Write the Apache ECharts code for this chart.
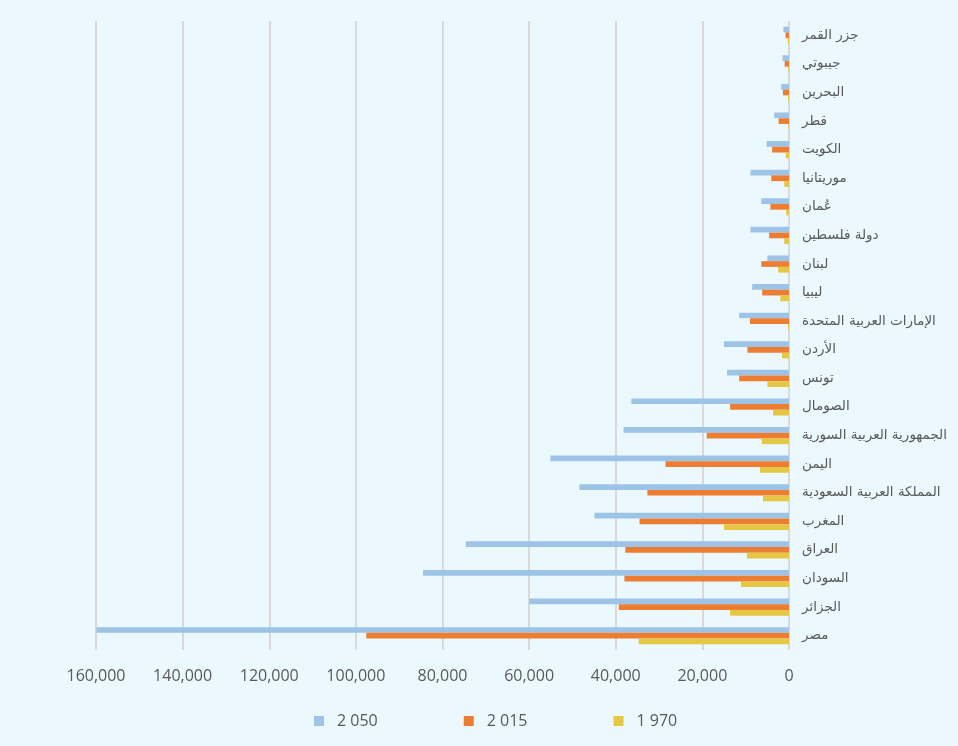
<!DOCTYPE html>
<html><head><meta charset="utf-8">
<script src="https://cdn.jsdelivr.net/npm/echarts@6/dist/echarts.min.js"></script>
<style>html,body{margin:0;padding:0;background:#EBF8FE;}#c{width:958px;height:746px;}</style>
</head><body><div id="c"></div>
<script>
const categories = ['جزر القمر','جيبوتي','البحرين','قطر','الكويت','موريتانيا','عُمان','دولة فلسطين','لبنان','ليبيا','الإمارات العربية المتحدة','الأردن','تونس','الصومال','الجمهورية العربية السورية','اليمن','المملكة العربية السعودية','المغرب','العراق','السودان','الجزائر','مصر'];
const seriesNames = ['2 050','2 015','1 970'];
const v2050 = [1300,1500,1800,3400,5200,8900,6400,8900,5000,8500,11500,15000,14300,36400,38200,55100,48400,44900,74600,84500,60000,159900];
const v2015 = [800,1000,1400,2400,3900,4100,4300,4600,6400,6200,9000,9600,11500,13600,19000,28500,32700,34500,37800,38000,39300,97600];
const v1970 = [270,160,220,110,750,1100,650,1100,2500,2000,230,1600,5000,3700,6300,6700,6000,15000,9700,11100,13600,34700];
const xTicks = {min:0, max:160000, interval:20000};

const chart = echarts.init(document.getElementById('c'), null, {renderer:'canvas'});
const colors = ['#9DC3E6','#ED7D31','#E6C743'];
const data = [v2050, v2015, v1970];
chart.setOption({
  backgroundColor:'#EBF8FE',
  animation:false,
  grid:{left:96, right:169, top:21, bottom:96},
  legend:{
    data:seriesNames, left:309, top:708, itemWidth:10, itemHeight:10, itemGap:86,
    icon:'rect',
    textStyle:{fontFamily:'Open Sans', fontSize:16, color:'#595959', padding:[0,0,0,8]}
  },
  xAxis:{
    type:'value', inverse:true, min:xTicks.min, max:xTicks.max, interval:xTicks.interval,
    axisLine:{show:false}, axisTick:{show:false},
    splitLine:{show:true, lineStyle:{color:'#D9D9D9', width:2}},
    axisLabel:{margin:18, fontFamily:'Open Sans', fontSize:16, color:'#595959',
      formatter:function(v){return v.toLocaleString('en-US');}}
  },
  yAxis:{
    type:'category', data:categories, inverse:true, position:'right',
    axisLine:{show:false}, axisTick:{show:false},
    axisLabel:{margin:13, align:'left', fontFamily:'DejaVu Sans', fontSize:13.5, color:'#595959', padding:[7,0,0,0]}
  },
  series: seriesNames.map((n,i)=>({
    name:n, type:'bar', data:data[i], barGap:'0%', barCategoryGap:'40%',
    itemStyle:{color:colors[i]}
  }))
});
</script></body></html>
